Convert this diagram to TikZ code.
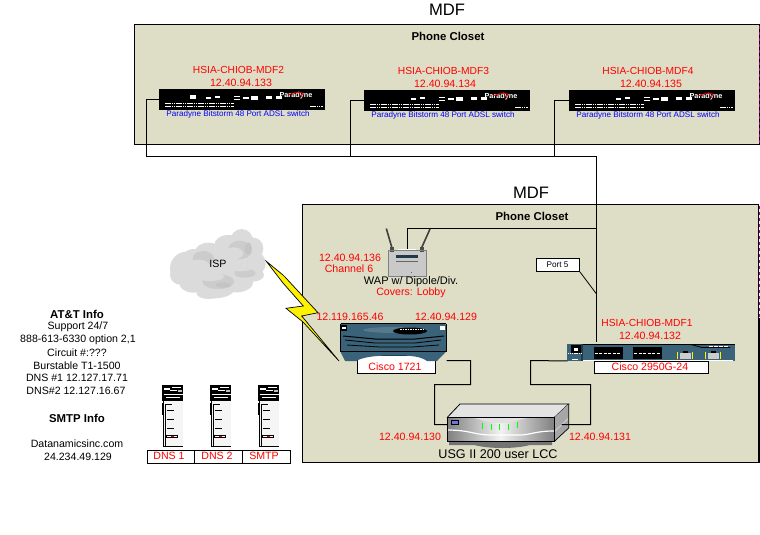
\documentclass[tikz,border=0pt]{standalone}
\usepackage{fontspec}
\setmainfont{Liberation Sans}
\usetikzlibrary{calc}
\definecolor{closet}{HTML}{DEDEC6}
\definecolor{devblue}{HTML}{3A6278}
\definecolor{devdark}{HTML}{1E3A48}
\tikzset{
  lab/.style={inner sep=0pt,anchor=center,align=center,font=\fontsize{10.6}{12}\selectfont},
  red lab/.style={lab,text=red},
  name lab/.style={lab,text=red,font=\fontsize{10.25}{12}\selectfont},
  blue lab/.style={lab,text=blue,font=\fontsize{8.1}{10}\selectfont},
  head lab/.style={lab,font=\bfseries\fontsize{11.4}{13}\selectfont},
  big lab/.style={lab,font=\fontsize{16.6}{18}\selectfont},
  roombox/.style={draw=black,fill=closet,line width=1pt},
  wire/.style={draw=black,line width=1pt},
  whitebox/.style={draw=black,fill=white,line width=1pt,inner sep=0pt,anchor=north west},
  devbox/.style={inner sep=0pt,anchor=north west,outer sep=0pt},
  dots/.style={draw=white,line width=1pt,dash pattern=on 1.5pt off .7pt},
}
\newcommand{\paradynebox}[4]{% name, x, y, first blob
  \node[devbox,fill=black,minimum width=166pt,minimum height=21pt] (#1) at (#2,#3) {};
  \begin{scope}[shift={(#2,#3)}]
    #4
    \foreach \a/\b/\c/\d in {47/52/7.5/10,56/61/7/9,75/81/6.5/8,75/81/9.5/11,84/90/7.5/9.5,92/99/7/10.5,107/113/7/10,117/123/7/10}
      \fill[white] (\a,\c) rectangle (\b,\d);
    \draw[dots] (6,14) -- (75,14);
    \draw[dots] (6,17.5) -- (75,17.5);
    \draw[dots] (151,17.5) -- (164,17.5);
    \node[lab,text=white,font=\bfseries\fontsize{7.3}{8}\selectfont] at (137,6.6) {Paradyne};
    \draw[red,line width=.8pt] (129,6) .. controls (134,3.5) and (139,3) .. (144,4) -- (142,8);
  \end{scope}
}
\newcommand{\serverbox}[2]{% name, x
  \node[devbox,fill=black,minimum width=21pt,minimum height=16pt] (#1) at (#2,385) {};
  \begin{scope}[shift={(#2,385)}]
    \fill[white!96!black] (2,16) rectangle (21,61);
    \fill[white] (2,3) rectangle (8,5);
    \fill[white] (10,2) rectangle (19,3);
    \fill[white] (8,5) rectangle (15,6);
    \fill[lightgray] (16,4.5) rectangle (20,7);
    \fill[white] (2,9) rectangle (21,10);
    \fill[white] (4,12) rectangle (18,13);
    \draw[black,line width=1pt] (1.5,16) -- (1.5,61.5) -- (21,61.5);
    \draw[black,line width=1pt] (3.5,61) -- (3.5,19.5) -- (10,19.5);
    \fill[black] (0,18) rectangle (2,30);
    \foreach \y in {25,34,43}
      \draw[black,line width=1pt] (5,\y) -- (12,\y);
    \draw[black,fill=white,line width=1pt] (4.5,50) rectangle (15,52.5);
    \draw[red,line width=.8pt] (9,51) -- (12,51);
  \end{scope}
}
\begin{document}
\begin{tikzpicture}[x=1pt,y=-1pt]
\useasboundingbox (0,0) rectangle (760,535);
% rooms
\node[devbox,roombox,minimum width=625pt,minimum height=120pt] (room2) at (134.5,24.5) {};
\node[devbox,roombox,minimum width=456pt,minimum height=257.5pt] (room1) at (302.5,204.5) {};
\foreach \y in {26,32,...,142,206,212,...,316}
  \fill[violet!80!magenta] (759,\y) rectangle (760,\y+3);
\draw[black,line width=2pt] (759,318) -- (759,462.5);
% headings
\node[big lab] (t1) at (447,10) {MDF};
\node[big lab] (t2) at (531,193) {MDF};
\node[head lab] (pc1) at (448,36) {Phone Closet};
\node[head lab] (pc2) at (532,216) {Phone Closet};
% bottom device, drawn before its wires
\node[devbox,minimum width=121.7pt,minimum height=41pt] (usg) at (447,404) {};
\fill[black!55] (449,441) -- (449,445) -- (474,445) .. controls (490,449) and (515,449) .. (530,445) -- (552,445) -- (552,441) -- cycle;
\fill[black!11] (447,417.7) -- (460,404) -- (568.7,404) -- (554,417.7) -- cycle;
\draw[black,line width=.8pt] (447,417.7) -- (460,404) -- (568.7,404) -- (554,417.7);
\fill[black!35] (554,417.7) -- (568.7,404) -- (568.7,428) -- (554,441.7) -- cycle;
\draw[white!80!black,line width=1pt] (554,432) -- (568.7,418);
\shade[left color=black!50,right color=black!50,middle color=black!5] (447,417.7) rectangle (554,441.7);
\draw[white,line width=1.2pt] (447,430) .. controls (470,430) and (475,435) .. (490,435) -- (520,435) .. controls (530,435) and (535,431) .. (554,431);
\fill[black!12] (470,417.7) .. controls (480,418) and (485,423) .. (500,423) .. controls (515,423) and (520,418) .. (532,417.7) -- cycle;
\draw[black,line width=.7pt] (447,417.7) rectangle (554,441.7);
\draw[black,line width=.7pt] (554,441.7) -- (568.7,428) -- (568.7,404);
\fill[blue!40!lightgray,draw=black,line width=.6pt] (451,420.7) rectangle (458,424.3);
\foreach \x/\y in {482/423,491/424,499.5/424,508/424,517/422}
  \draw[green,line width=1pt] (\x,\y) -- (\x,\y+6);
% devices used by wires
\paradynebox{swb}{159}{89}{\fill[white] (31,6) rectangle (37,9.5);}
\paradynebox{swc}{364}{90}{}
\paradynebox{swd}{569}{90}{}
\node[devbox,minimum width=38pt,minimum height=26pt,fill=black!21] (wap) at (388,250) {};
\node[devbox,minimum width=106.7pt,minimum height=37.7pt] (router) at (340,323) {};
\node[devbox,fill=devblue,minimum width=167.7pt,minimum height=17pt] (swa) at (567.3,344) {};
\node[whitebox,minimum width=43pt,minimum height=13pt] (port) at (536,258) {};
% wires
\coordinate (busL) at (146.5,156.5);
\coordinate (busC) at (350.5,156.5);
\coordinate (busD) at (554.5,156.5);
\coordinate (busR) at (596.5,156.5);
\coordinate (wapj) at (596.5,228.5);
\coordinate (portj) at (596.5,294);
\coordinate (lan1) at (470.5,360.5);
\coordinate (lan2) at (470.5,384.5);
\coordinate (lan3) at (434.5,384.5);
\coordinate (lan4) at (530.5,360.5);
\coordinate (lan5) at (530.5,384.5);
\coordinate (lan6) at (590.5,384.5);
\draw[wire] (swb.west) -| (busL) -- (busR);
\draw[wire] (swc.west) -| (busC);
\draw[wire] (swd.west) -| (busD);
\draw[wire,shorten >=2pt] (busR) -- (busR |- swa.north);
\draw[wire] (wap.north) |- (wapj);
\draw[line width=.8pt,black] (port.south east) -- (portj);
\draw[wire] (router.south east) -- (lan1) -- (lan2) -- (lan3) |- (usg.west);
\draw[wire] (swa.south west) -- (lan4) -- (lan5) -- (lan6) |- ([xshift=-7pt]usg.east);
% WAP details
\draw[black!75,line width=1.6pt] (386.3,228.5) -- (392,248);
\draw[black!75,line width=1.6pt] (430,229) -- (421.5,248);
\fill[black!70] (390,247) rectangle (394,252);
\fill[black!70] (420,247) rectangle (424,252);
\fill[white] (398,248.5) rectangle (416,251);
\fill[devdark] (396,255) rectangle (418,258.3);
\draw[black!60,line width=.4pt] (396,261) -- (418,261);
\fill[black!60] (411,272) rectangle (412,273);
\draw[black!50,line width=.5pt] (388,250) rectangle (426,276);
% lightning
\fill[yellow,draw=black,line width=.7pt] (266.3,261.3) -- (283,275) -- (285,277) -- (318,312.7) -- (301.7,316) -- (339,361) -- (303,322) -- (286,308.3) -- (303.3,306) -- (283,283) -- cycle;
% Cisco 1721
\node[whitebox,minimum width=77.7pt,minimum height=17.6pt] (ciscol) at (357,355) {};
\fill[devblue] (341,323) -- (445.5,323) -- (446.7,333) -- (446.7,351) -- (437,361) -- (427,361) .. controls (420,356) and (410,355.5) .. (395,355.5) .. controls (380,355.5) and (365,356) .. (356,361) -- (345,361) -- (340,351) -- (340,333) -- cycle;
\draw[black,line width=.9pt] (341,323) -- (445.5,323);
\draw[black,line width=.8pt] (340,324) -- (340,351) -- (446.7,351) -- (446.7,324);
\draw[black,line width=1pt] (343,336) -- (375,339) -- (415,339) -- (444,336);
\draw[black,line width=.8pt] (345,340) -- (375,343) -- (415,343) -- (441,340);
\draw[black,line width=.8pt] (347,345) -- (380,347) -- (412,347) -- (439,345);
\fill[devblue!70!white,opacity=.5] (395,330) ellipse [x radius=32,y radius=3];
\fill[black] (410,331) ellipse [x radius=17,y radius=3.5];
\draw[white,line width=.7pt,dash pattern=on 1.5pt off 1pt] (400,329.5) -- (425,329.5);
\fill[black] (341,325) rectangle (347,331);
\fill[white] (342,326.5) rectangle (346,329);
\fill[white] (440,326) rectangle (445,330);
% Cisco 2950
\draw[black,line width=1.4pt] (583,344.5) -- (735,344.5);
\fill[white] (583,360) rectangle (733,361);
\fill[devdark] (581,344) rectangle (583,361);
\fill[black] (571,345) rectangle (581,353);
\draw[dots] (567.5,353.5) -- (581,353.5);
\fill[white] (574,347.5) rectangle (578,351);
\fill[white] (572,359) rectangle (578,360);
\foreach \x in {593.5,633}{
  \fill[black] (\x,346.5) rectangle (\x+29,358.5);
  \draw[white,line width=.9pt,dash pattern=on 3pt off 1.5pt] (\x+1,353) -- (\x+28,353);
}
\foreach \x in {677.5,705.5}{
  \fill[black!20] (\x+2,353) rectangle (\x+13,359);
  \fill[black] (\x+5,350.5) rectangle (\x+10,353);
  \draw[yellow,line width=1pt] (\x,352) -- (\x,359);
  \draw[yellow,line width=1pt] (\x+15,352) -- (\x+15,359);
}
\draw[black,line width=.8pt] (691,344.5) -- (702,347.5) -- (730,347.5);
\draw[white,line width=1pt,dash pattern=on 4pt off 1pt] (709,346) -- (729,346);
\node[whitebox,minimum width=114pt,minimum height=11.5pt] (ciscor) at (593.5,361) {};
% cloud
\begin{scope}[shift={(165,225)},x=.3333pt,y=-.3333pt]
  \foreach \ca/\cb/\ea/\eb in {65/130/50/50,50/150/35/30,85/100/32/28,130/85/42/32,190/60/42/30,230/50/35/38,265/70/30/32,270/115/32/35,262/150/35/20,215/170/50/32,150/185/62/35,130/205/35/17,85/175/42/28,170/110/70/55}
    \fill[black!14] (\ca,\cb) ellipse [x radius=\ea,y radius=\eb];
  \foreach \ca/\cb/\ea/\eb in {115/100/32/22,225/75/36/28,160/170/48/22,240/145/32/13}
    \fill[black!20] (\ca,\cb) ellipse [x radius=\ea,y radius=\eb];
  \foreach \ca/\cb/\ea/\eb in {100/120/32/16,205/85/30/18,135/155/42/13,225/130/35/9}
    \fill[black!14] (\ca,\cb) ellipse [x radius=\ea,y radius=\eb];
  \foreach \ca/\cb/\ea/\eb in {250/70/10/18,175/180/22/8}
    \fill[black!23] (\ca,\cb) ellipse [x radius=\ea,y radius=\eb];
\end{scope}
\node[lab] (isp) at (218,264) {ISP};
% servers
\serverbox{sv1}{162}
\serverbox{sv2}{210}
\serverbox{sv3}{258}
\node[whitebox,minimum width=47.5pt,minimum height=12.5pt] (dns1) at (146.7,450) {};
\node[whitebox,minimum width=48pt,minimum height=12.5pt] (dns2) at (194.2,450) {};
\node[whitebox,minimum width=48pt,minimum height=12.5pt] (smtp) at (242.2,450) {};
% labels
\node[name lab] (nb) at (238.5,70) {HSIA-CHIOB-MDF2};
\node[red lab] (ib) at (241,83) {12.40.94.133};
\node[name lab] (nc) at (443.5,71) {HSIA-CHIOB-MDF3};
\node[red lab] (ic) at (445,84) {12.40.94.134};
\node[name lab] (nd) at (648,71) {HSIA-CHIOB-MDF4};
\node[red lab] (id) at (651,84) {12.40.94.135};
\node[blue lab] (lb) at (238,114) {Paradyne Bitstorm 48 Port ADSL switch};
\node[blue lab] (lc) at (443,115) {Paradyne Bitstorm 48 Port ADSL switch};
\node[blue lab] (ld) at (648,115) {Paradyne Bitstorm 48 Port ADSL switch};
\node[red lab] (i136) at (350,258) {12.40.94.136};
\node[red lab] (chan) at (349,269) {Channel 6};
\node[lab,font=\fontsize{11}{13}\selectfont] (wapl) at (411,282) {WAP w/ Dipole/Div.};
\node[red lab] (cov) at (411,293) {Covers: Lobby};
\node[red lab] (i46) at (350,317) {12.119.165.46};
\node[red lab] (i129) at (446,317) {12.40.94.129};
\node[name lab] (na) at (647,323) {HSIA-CHIOB-MDF1};
\node[red lab] (ia) at (650,336) {12.40.94.132};
\node[red lab] (c1) at (395,366.5) {Cisco 1721};
\node[red lab] (c2) at (650,366.5) {Cisco 2950G-24};
\node[red lab] (i130) at (410,437) {12.40.94.130};
\node[red lab] (i131) at (600,437) {12.40.94.131};
\node[lab,font=\fontsize{12.6}{14}\selectfont] (usgl) at (498,454) {USG II 200 user LCC};
\node[lab,font=\fontsize{8.2}{10}\selectfont] (p5) at (557.5,264.5) {Port 5};
\node[head lab] (att) at (77,314) {AT\&T Info};
\node[lab] (a1) at (78,327) {Support 24/7};
\node[lab] (a2) at (78,340) {888-613-6330 option 2,1};
\node[lab] (a3) at (77,353) {Circuit \#:???};
\node[lab] (a4) at (77,366) {Burstable T1-1500};
\node[lab] (a5) at (77,378) {DNS \#1 12.127.17.71};
\node[lab] (a6) at (76,391) {DNS\#2 12.127.16.67};
\node[head lab] (smt) at (77,418) {SMTP Info};
\node[lab] (s1) at (77,444) {Datanamicsinc.com};
\node[lab] (s2) at (78,457) {24.234.49.129};
\node[red lab] (d1) at (169,455.5) {DNS 1};
\node[red lab] (d2) at (217,455.5) {DNS 2};
\node[red lab] (d3) at (264,455.5) {SMTP};
\end{tikzpicture}
\end{document}
